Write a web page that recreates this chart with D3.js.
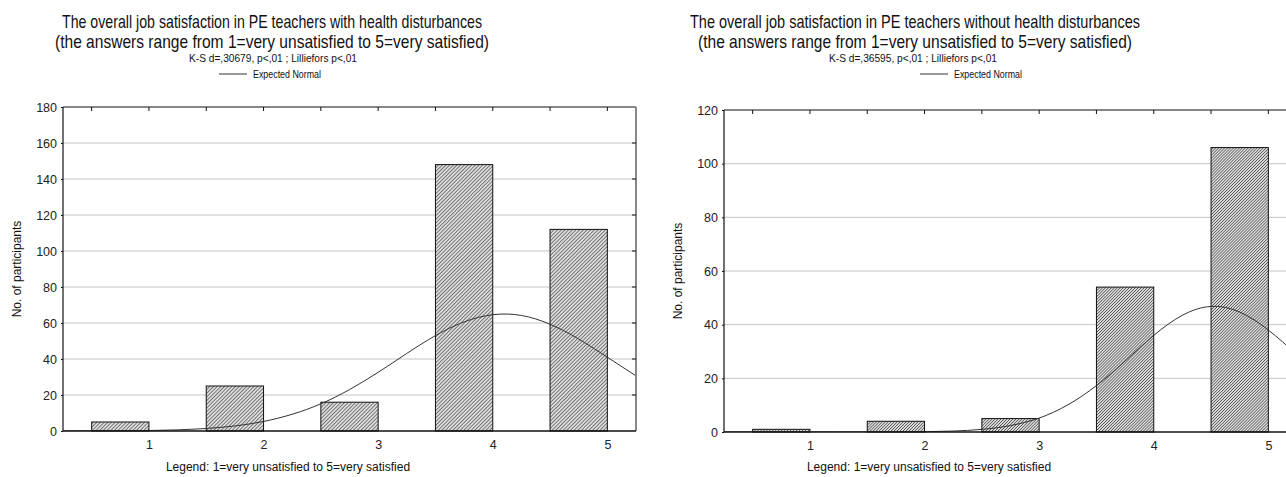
<!DOCTYPE html>
<html>
<head>
<meta charset="utf-8">
<script src="https://cdn.jsdelivr.net/npm/d3@7"></script>
<style>
  html, body { margin: 0; padding: 0; background: #fff; }
  svg { display: block; }
  .title { font-family: "Liberation Sans", Arial, sans-serif; font-size: 19px; fill: #111; }
  .small { font-family: "Liberation Sans", Arial, sans-serif; font-size: 11px; fill: #111; }
  .label { font-family: "Liberation Sans", Arial, sans-serif; font-size: 12px; fill: #111; }
  .tick { font-family: "Liberation Sans", Arial, sans-serif; font-size: 12.5px; fill: #222; }
</style>
</head>
<body>
<svg id="chart" width="1286" height="477"></svg>
<script>
// ---------- DATA ----------
const categories = [1, 2, 3, 4, 5];
const withHealth = [5, 25, 16, 148, 112];
const withoutHealth = [1, 4, 5, 54, 106];
const yTicksWith = [0, 20, 40, 60, 80, 100, 120, 140, 160, 180];
const yTicksWithout = [0, 20, 40, 60, 80, 100, 120];
const xTickLabels = ["1", "2", "3", "4", "5"];
// Expected normal curves (x positions on the score scale)
const normalX = [0.25, 0.5, 0.75, 1, 1.25, 1.5, 1.75, 2, 2.25, 2.5, 2.75, 3, 3.25, 3.5, 3.75, 4, 4.25, 4.5, 4.75, 5, 5.25];
const normalWith = [0, 0.04, 0.11, 0.27, 0.64, 1.4, 2.8, 5.3, 9.3, 15.1, 23.0, 32.6, 43.1, 53.0, 60.6, 64.6, 64.2, 59.3, 51.1, 41.0, 30.6];
const normalWithout = [0, 0, 0, 0, 0, 0, 0.03, 0.12, 0.36, 0.98, 2.4, 5.2, 10.1, 17.3, 26.4, 36.0, 43.5, 46.8, 44.7, 38.0, 28.8];
const titlesWith = ["The overall job satisfaction in PE teachers with health disturbances",
                    "(the answers range from 1=very unsatisfied to 5=very satisfied)"];
const titlesWithout = ["The overall job satisfaction in PE teachers without health disturbances",
                       "(the answers range from 1=very unsatisfied to 5=very satisfied)"];
const ksWith = "K-S d=,30679, p<,01 ; Lilliefors p<,01";
const ksWithout = "K-S d=,36595, p<,01 ; Lilliefors p<,01";
const legendText = "Expected Normal";
const yLabel = "No. of participants";
const xLabel = "Legend: 1=very unsatisfied to 5=very satisfied";

const svg = d3.select("#chart");
const defs = svg.append("defs");

function makePattern(id, size) {
  const p = defs.append("pattern")
    .attr("id", id)
    .attr("patternUnits", "userSpaceOnUse")
    .attr("width", size).attr("height", size)
    .attr("patternTransform", "rotate(45)");
  p.append("rect").attr("width", size).attr("height", size).attr("fill", "#dcdcdc");
  p.append("line").attr("x1", 0).attr("y1", 0).attr("x2", 0).attr("y2", size)
    .attr("stroke", "#2a2a2a").attr("stroke-width", 1.1);
}
makePattern("hatchA", 2.6);
makePattern("hatchB", 2.1);

function drawPanel(cfg) {
  const { left, right, top, bottom, yMax, yTicks, values, curve, titles, ks,
          titleCx, titleLens, ksCx, legendLineX, yLabelX, xLabelCx, pattern, clipId } = cfg;
  const g = svg.append("g");
  const x = d3.scaleLinear().domain([0.25, 5.25]).range([left, right]);
  const y = d3.scaleLinear().domain([0, yMax]).range([bottom, top]);

  defs.append("clipPath").attr("id", clipId)
    .append("rect").attr("x", left).attr("y", top).attr("width", right - left).attr("height", bottom - top);

  // gridlines
  g.append("g").selectAll("line").data(yTicks.filter(d => d > 0 && d < yMax)).join("line")
    .attr("x1", left).attr("x2", right)
    .attr("y1", d => y(d)).attr("y2", d => y(d))
    .attr("stroke", "#c4c4c4").attr("stroke-width", 1);

  // bars
  g.append("g").selectAll("rect").data(categories).join("rect")
    .attr("x", (d) => x(d - 0.5))
    .attr("width", (d) => x(d) - x(d - 0.5))
    .attr("y", (d, i) => y(values[i]))
    .attr("height", (d, i) => y(0) - y(values[i]))
    .attr("fill", `url(#${pattern})`)
    .attr("stroke", "#111").attr("stroke-width", 1);

  // normal curve
  const line = d3.line().x((d, i) => x(normalX[i])).y(d => y(d)).curve(d3.curveNatural);
  g.append("path").datum(curve)
    .attr("d", line)
    .attr("clip-path", `url(#${clipId})`)
    .attr("fill", "none").attr("stroke", "#333").attr("stroke-width", 1);

  // frame
  g.append("line").attr("x1", left).attr("x2", right).attr("y1", top).attr("y2", top)
    .attr("stroke", "#111").attr("stroke-width", 1.2);
  g.append("line").attr("x1", left).attr("x2", left).attr("y1", top).attr("y2", bottom)
    .attr("stroke", "#111").attr("stroke-width", 1.2);
  g.append("line").attr("x1", right).attr("x2", right).attr("y1", top).attr("y2", bottom)
    .attr("stroke", "#888").attr("stroke-width", 2);
  g.append("line").attr("x1", left).attr("x2", right).attr("y1", bottom).attr("y2", bottom)
    .attr("stroke", "#111").attr("stroke-width", 1.6);

  // top ticks (inward)
  const topTicks = d3.range(0.5, 5.01, 0.5);
  g.append("g").selectAll("line").data(topTicks).join("line")
    .attr("x1", d => x(d)).attr("x2", d => x(d))
    .attr("y1", top).attr("y2", top + 4)
    .attr("stroke", "#111").attr("stroke-width", 1);
  // right ticks (inward)
  g.append("g").selectAll("line").data(yTicks.filter(d => d > 0 && d < yMax)).join("line")
    .attr("x1", right - 4).attr("x2", right)
    .attr("y1", d => y(d)).attr("y2", d => y(d))
    .attr("stroke", "#111").attr("stroke-width", 1);

  // left axis labels via d3 axis
  const yAxis = d3.axisLeft(y).tickValues(yTicks).tickSize(2).tickPadding(4).tickFormat(d3.format("d"));
  const ya = g.append("g").attr("transform", `translate(${left},0)`).call(yAxis);
  ya.select(".domain").remove();
  ya.selectAll("line").attr("stroke", "#111");
  ya.selectAll("text").attr("class", "tick").attr("font-size", null).attr("font-family", null);

  // bottom axis labels (at category values)
  const xAxis = d3.axisBottom(x).tickValues(categories).tickSize(0).tickPadding(9)
    .tickFormat((d, i) => xTickLabels[i]);
  const xa = g.append("g").attr("transform", `translate(0,${bottom})`).call(xAxis);
  xa.select(".domain").remove();
  xa.selectAll("text").attr("class", "tick").attr("font-size", null).attr("font-family", null);

  // titles (condensed via textLength)
  [0, 1].forEach(k => {
    g.append("text").attr("class", "title").attr("x", titleCx).attr("y", k === 0 ? 28 : 48)
      .attr("text-anchor", "middle")
      .attr("textLength", titleLens[k]).attr("lengthAdjust", "spacingAndGlyphs")
      .text(titles[k]);
  });
  g.append("text").attr("class", "small").attr("x", ksCx).attr("y", 62).attr("text-anchor", "middle")
    .attr("textLength", 168).attr("lengthAdjust", "spacingAndGlyphs").text(ks);
  // legend
  g.append("line").attr("x1", legendLineX).attr("x2", legendLineX + 28).attr("y1", 74).attr("y2", 74)
    .attr("stroke", "#333").attr("stroke-width", 1);
  g.append("text").attr("class", "small").attr("x", legendLineX + 34).attr("y", 78)
    .attr("textLength", 68).attr("lengthAdjust", "spacingAndGlyphs").text(legendText);

  // axis titles
  g.append("text").attr("class", "label")
    .attr("transform", `translate(${yLabelX},${(top + bottom) / 2}) rotate(-90)`)
    .attr("text-anchor", "middle").text(yLabel);
  g.append("text").attr("class", "label").attr("x", xLabelCx).attr("y", 471)
    .attr("text-anchor", "middle").text(xLabel);
}

drawPanel({
  left: 63, right: 636, top: 107, bottom: 431, yMax: 180, yTicks: yTicksWith,
  values: withHealth, curve: normalWith, titles: titlesWith, ks: ksWith,
  titleCx: 272, titleLens: [420, 434], ksCx: 273, legendLineX: 219, yLabelX: 21, xLabelCx: 288,
  pattern: "hatchA", clipId: "clipA"
});
drawPanel({
  left: 724, right: 1297, top: 110, bottom: 432, yMax: 120, yTicks: yTicksWithout,
  values: withoutHealth, curve: normalWithout, titles: titlesWithout, ks: ksWithout,
  titleCx: 915, titleLens: [450, 434], ksCx: 913, legendLineX: 920, yLabelX: 682, xLabelCx: 929,
  pattern: "hatchB", clipId: "clipB"
});
</script>
</body>
</html>
